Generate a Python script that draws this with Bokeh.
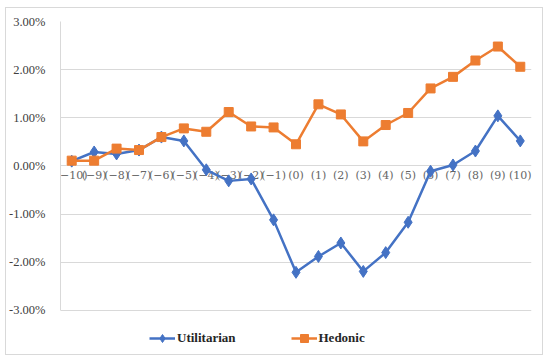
from bokeh.plotting import figure
from bokeh.models import Range1d, FixedTicker, PrintfTickFormatter, Legend, LegendItem, ColumnDataSource
from bokeh.core.properties import value
from bokeh.embed import file_html
from bokeh.resources import INLINE

categories = ["(\u221210)", "(\u22129)", "(\u22128)", "(\u22127)", "(\u22126)", "(\u22125)", "(\u22124)",
              "(\u22123)", "(\u22122)", "(\u22121)", "(0)", "(1)", "(2)", "(3)", "(4)", "(5)",
              "(6)", "(7)", "(8)", "(9)", "(10)"]
utilitarian = [0.10, 0.29, 0.25, 0.33, 0.60, 0.52, -0.08, -0.31, -0.27, -1.12, -2.21,
               -1.88, -1.60, -2.19, -1.80, -1.17, -0.11, 0.02, 0.31, 1.04, 0.52]
hedonic = [0.11, 0.11, 0.36, 0.33, 0.60, 0.78, 0.71, 1.12, 0.82, 0.80, 0.45,
           1.28, 1.07, 0.51, 0.85, 1.10, 1.61, 1.85, 2.19, 2.48, 2.06]
y_ticks = [-3, -2, -1, 0, 1, 2, 3]

xs = list(range(len(categories)))
src = ColumnDataSource(dict(x=xs, u=utilitarian, h=hedonic, lab=categories, zero=[0] * len(xs)))

p = figure(width=538, height=348, output_backend="svg", toolbar_location=None,
           x_range=Range1d(-0.5, len(xs) - 0.5), y_range=Range1d(-3.833, 3),
           min_border_left=53, min_border_right=13, min_border_top=13, min_border_bottom=6,
           margin=(7, 0, 0, 5), styles={"border": "1px solid #d9d9d9"})
p.outline_line_color = None
p.xaxis.visible = False
p.xgrid.visible = False
p.ygrid.grid_line_color = "#d9d9d9"
p.ygrid.grid_line_width = 1
p.yaxis.ticker = FixedTicker(ticks=y_ticks)
p.yaxis.bounds = (-3, 3)
p.yaxis.formatter = PrintfTickFormatter(format="%.2f%%")
p.yaxis.axis_line_color = "#d9d9d9"
p.yaxis.major_tick_line_color = None
p.yaxis.minor_tick_line_color = None
p.yaxis.major_label_text_font = "Liberation Serif"
p.yaxis.major_label_text_font_size = "12.5px"
p.yaxis.major_label_text_color = "#404040"
p.yaxis.major_label_standoff = 9

p.text(x="x", y="zero", text="lab", source=src, text_font=value("DejaVu Serif"),
       text_font_size="11px", text_color="#666666", text_align="center",
       text_baseline="middle", y_offset=10)

blue = "#4472C4"
orange = "#ED7D31"
lu = p.line("x", "u", source=src, line_color=blue, line_width=2.5)
mu = p.scatter("x", "u", source=src, marker="diamond", size=12, fill_color=blue, line_color=blue)
lh = p.line("x", "h", source=src, line_color=orange, line_width=2.5)
mh = p.scatter("x", "h", source=src, marker="square", size=9, fill_color=orange, line_color=orange)

legend = Legend(items=[LegendItem(label="Utilitarian", renderers=[lu, mu]),
                       LegendItem(label="Hedonic", renderers=[lh, mh])],
                orientation="horizontal", location=(89, 2), spacing=55, glyph_width=26,
                label_text_font="Liberation Serif", label_text_font_style="bold",
                label_text_font_size="13px", label_text_color="#262626",
                border_line_color=None, background_fill_alpha=0, margin=0, padding=4, label_standoff=2)
p.add_layout(legend, "center")

open("out.html", "w").write(file_html(p, INLINE))
